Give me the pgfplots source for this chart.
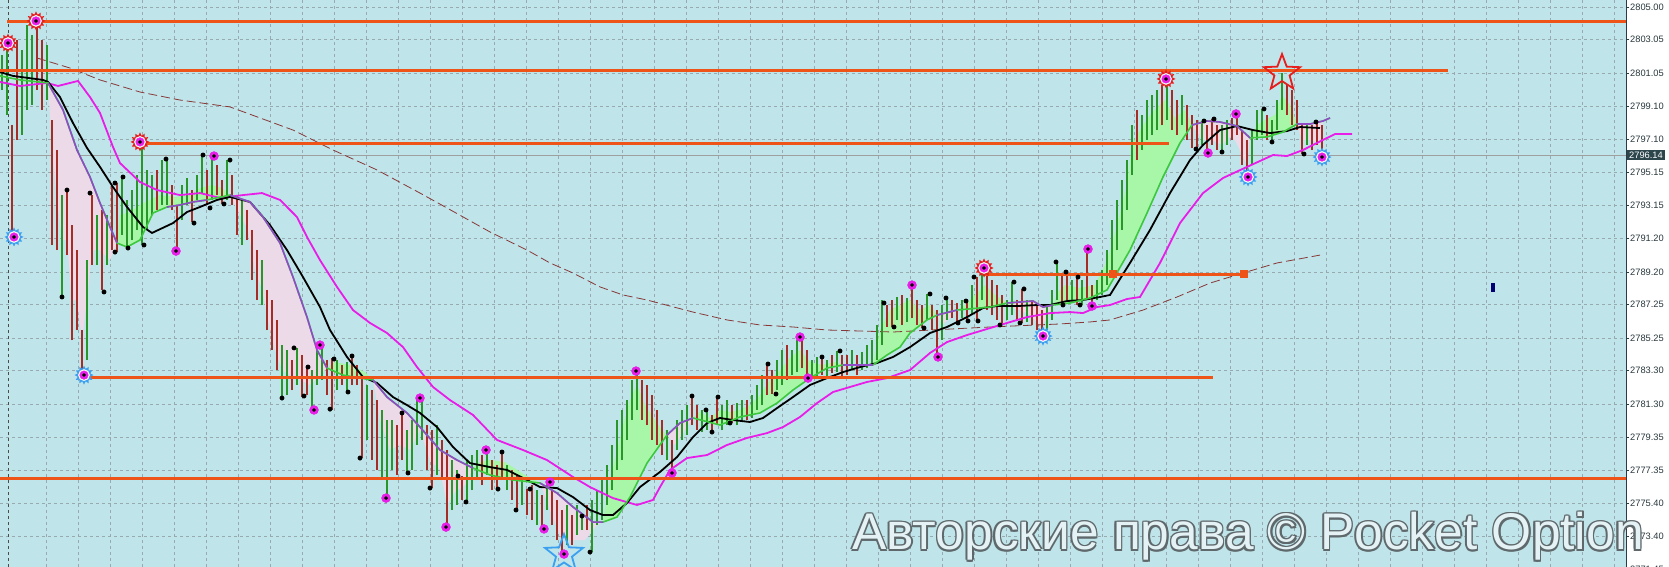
\documentclass[border=0pt]{standalone}
\usepackage{fontspec}
\setmainfont{Liberation Sans}
\usepackage{pgfplots}
\pgfplotsset{compat=1.18}
\usepackage{pgfplotstable}
\definecolor{bgc}{RGB}{191,228,233}
\definecolor{gridc}{RGB}{150,170,175}
\definecolor{orng}{RGB}{238,84,24}
\definecolor{upc}{RGB}{40,150,40}
\definecolor{dnc}{RGB}{165,45,38}
\definecolor{fgreen}{RGB}{60,200,60}
\definecolor{fpurple}{RGB}{145,75,200}
\definecolor{mag}{RGB}{232,30,232}
\definecolor{dashc}{RGB}{135,55,55}
\definecolor{fillg}{RGB}{168,246,168}
\definecolor{fillp}{RGB}{236,218,232}
\definecolor{axc}{RGB}{40,60,68}
\definecolor{lblc}{RGB}{40,55,60}
\definecolor{pricebox}{RGB}{45,70,76}
\definecolor{sunred}{RGB}{230,30,30}
\definecolor{sunblue}{RGB}{60,160,240}
\definecolor{wmout}{RGB}{95,105,108}
\definecolor{wmfill}{RGB}{228,242,246}

\pgfdeclareplotmark{sun}{%
\pgfpathmoveto{\pgfpointpolar{0}{\pgfplotmarksize}}%
\pgfpathlineto{\pgfpointpolar{15}{0.68\pgfplotmarksize}}%
\pgfpathlineto{\pgfpointpolar{30}{\pgfplotmarksize}}%
\pgfpathlineto{\pgfpointpolar{45}{0.68\pgfplotmarksize}}%
\pgfpathlineto{\pgfpointpolar{60}{\pgfplotmarksize}}%
\pgfpathlineto{\pgfpointpolar{75}{0.68\pgfplotmarksize}}%
\pgfpathlineto{\pgfpointpolar{90}{\pgfplotmarksize}}%
\pgfpathlineto{\pgfpointpolar{105}{0.68\pgfplotmarksize}}%
\pgfpathlineto{\pgfpointpolar{120}{\pgfplotmarksize}}%
\pgfpathlineto{\pgfpointpolar{135}{0.68\pgfplotmarksize}}%
\pgfpathlineto{\pgfpointpolar{150}{\pgfplotmarksize}}%
\pgfpathlineto{\pgfpointpolar{165}{0.68\pgfplotmarksize}}%
\pgfpathlineto{\pgfpointpolar{180}{\pgfplotmarksize}}%
\pgfpathlineto{\pgfpointpolar{195}{0.68\pgfplotmarksize}}%
\pgfpathlineto{\pgfpointpolar{210}{\pgfplotmarksize}}%
\pgfpathlineto{\pgfpointpolar{225}{0.68\pgfplotmarksize}}%
\pgfpathlineto{\pgfpointpolar{240}{\pgfplotmarksize}}%
\pgfpathlineto{\pgfpointpolar{255}{0.68\pgfplotmarksize}}%
\pgfpathlineto{\pgfpointpolar{270}{\pgfplotmarksize}}%
\pgfpathlineto{\pgfpointpolar{285}{0.68\pgfplotmarksize}}%
\pgfpathlineto{\pgfpointpolar{300}{\pgfplotmarksize}}%
\pgfpathlineto{\pgfpointpolar{315}{0.68\pgfplotmarksize}}%
\pgfpathlineto{\pgfpointpolar{330}{\pgfplotmarksize}}%
\pgfpathlineto{\pgfpointpolar{345}{0.68\pgfplotmarksize}}%
\pgfpathclose\pgfusepathqfill}

\pgfdeclareplotmark{pstar}{%
\pgfpathmoveto{\pgfpointpolar{90}{\pgfplotmarksize}}%
\pgfpathlineto{\pgfpointpolar{126}{0.42\pgfplotmarksize}}%
\pgfpathlineto{\pgfpointpolar{162}{\pgfplotmarksize}}%
\pgfpathlineto{\pgfpointpolar{198}{0.42\pgfplotmarksize}}%
\pgfpathlineto{\pgfpointpolar{234}{\pgfplotmarksize}}%
\pgfpathlineto{\pgfpointpolar{270}{0.42\pgfplotmarksize}}%
\pgfpathlineto{\pgfpointpolar{306}{\pgfplotmarksize}}%
\pgfpathlineto{\pgfpointpolar{342}{0.42\pgfplotmarksize}}%
\pgfpathlineto{\pgfpointpolar{18}{\pgfplotmarksize}}%
\pgfpathlineto{\pgfpointpolar{54}{0.42\pgfplotmarksize}}%
\pgfpathclose\pgfusepathqstroke}

\pgfplotstableread{
x lo hi c
2 2800.05 2802.14 1
7 2798.56 2802.73 1
12 2791.40 2797.96 0
17 2797.07 2803.03 0
22 2797.37 2802.44 1
27 2798.86 2803.93 1
32 2799.15 2803.33 1
37 2800.05 2804.23 0
42 2798.86 2803.03 0
47 2799.45 2802.73 1
52 2790.80 2798.26 0
57 2790.50 2796.47 0
62 2787.82 2793.78 1
67 2790.20 2794.08 0
72 2785.13 2791.99 0
77 2785.73 2790.50 0
82 2783.04 2785.73 0
87 2783.94 2789.90 1
92 2789.61 2793.78 0
97 2789.61 2792.59 1
102 2788.12 2792.89 0
107 2789.61 2792.59 1
112 2790.50 2794.38 0
117 2790.38 2794.50 0
122 2791.40 2794.98 1
127 2790.62 2793.49 1
132 2791.10 2794.08 1
137 2791.70 2794.98 1
142 2790.80 2796.89 1
147 2791.70 2795.28 1
152 2792.59 2794.98 1
157 2792.89 2795.28 0
162 2793.19 2795.87 1
167 2793.19 2795.87 1
172 2792.89 2794.38 0
177 2790.50 2793.19 0
182 2792.29 2794.38 1
187 2793.19 2794.80 1
192 2792.17 2794.08 0
197 2793.49 2794.98 1
202 2793.90 2796.17 1
207 2793.19 2795.28 0
212 2793.49 2796.11 1
217 2793.78 2795.57 0
222 2793.25 2794.68 0
227 2793.49 2795.87 1
232 2793.19 2794.98 0
237 2791.40 2793.78 0
242 2790.80 2793.49 1
247 2791.10 2792.89 0
252 2788.71 2791.70 0
257 2787.52 2790.50 0
262 2787.22 2789.90 1
267 2785.73 2788.12 0
272 2784.54 2787.52 0
277 2783.34 2786.33 0
282 2781.67 2784.83 1
287 2781.85 2784.54 1
292 2782.15 2783.94 0
297 2782.45 2784.66 1
302 2781.73 2784.24 0
307 2781.85 2783.64 0
312 2780.96 2783.34 1
317 2782.45 2784.54 1
322 2782.75 2784.83 1
327 2781.85 2783.94 0
332 2780.96 2784.06 0
337 2782.15 2783.94 1
342 2782.45 2783.64 0
347 2782.03 2783.82 1
352 2782.45 2784.24 0
357 2782.45 2783.64 0
362 2778.09 2782.86 0
367 2779.17 2782.45 1
372 2777.97 2782.15 0
377 2777.38 2781.55 0
382 2776.78 2780.96 1
387 2775.70 2780.36 1
392 2777.38 2780.36 1
397 2777.08 2780.06 0
402 2777.97 2780.78 0
407 2777.20 2779.76 1
412 2777.38 2780.36 1
417 2778.87 2781.55 1
422 2779.17 2781.67 1
427 2777.38 2780.06 0
432 2776.30 2779.76 0
437 2777.08 2780.06 1
442 2776.78 2779.17 0
447 2773.97 2778.57 0
452 2774.99 2777.97 1
457 2775.29 2777.38 1
462 2775.59 2777.02 0
467 2775.47 2777.97 1
472 2776.18 2778.27 1
477 2776.78 2778.57 1
482 2776.48 2778.27 0
487 2777.08 2778.57 1
492 2776.18 2777.97 0
497 2776.24 2777.67 0
502 2776.78 2778.45 0
507 2776.18 2777.67 1
512 2775.59 2777.38 0
517 2774.99 2777.08 0
522 2775.29 2776.78 1
527 2774.69 2776.24 0
532 2774.39 2776.48 0
537 2774.09 2776.18 1
542 2773.86 2775.88 0
547 2774.99 2776.66 1
552 2774.09 2776.18 0
557 2773.20 2775.59 0
562 2772.36 2774.99 0
567 2772.90 2775.29 1
572 2772.90 2774.69 0
577 2773.50 2775.29 1
582 2773.80 2774.63 1
587 2773.80 2775.29 0
592 2772.48 2775.59 1
597 2774.09 2776.18 1
602 2774.39 2776.78 1
607 2775.29 2777.67 1
612 2776.18 2778.87 1
617 2777.38 2780.36 1
622 2777.97 2780.96 1
627 2779.17 2781.55 1
632 2780.36 2782.75 1
637 2780.96 2783.28 1
642 2780.36 2782.75 0
647 2780.06 2782.45 0
652 2779.17 2781.85 0
657 2778.87 2780.96 0
662 2778.27 2780.36 0
667 2777.97 2779.76 1
672 2777.20 2779.17 0
677 2778.57 2780.36 1
682 2779.17 2780.96 1
687 2779.46 2781.25 1
692 2780.06 2781.79 0
697 2779.76 2781.25 0
702 2779.64 2780.96 1
707 2779.76 2780.96 1
712 2779.64 2780.66 0
717 2780.06 2781.73 0
722 2779.76 2781.25 1
727 2780.06 2781.55 1
732 2780.18 2781.25 0
737 2780.06 2781.37 1
742 2780.36 2781.55 1
747 2780.36 2781.55 0
752 2780.48 2781.85 1
757 2780.96 2782.45 1
762 2781.25 2783.04 1
767 2781.85 2783.70 0
772 2781.91 2783.34 0
777 2782.15 2783.94 1
782 2782.45 2784.54 1
787 2782.75 2784.83 0
792 2783.04 2784.54 1
797 2783.22 2785.13 1
802 2783.46 2785.31 0
807 2782.86 2784.54 0
812 2782.86 2783.94 1
817 2782.86 2784.12 1
822 2783.04 2784.12 0
827 2782.86 2783.94 1
832 2783.16 2784.24 0
837 2783.22 2784.48 1
842 2782.92 2784.24 0
847 2783.04 2784.24 0
852 2783.34 2784.54 1
857 2783.04 2784.24 0
862 2783.34 2784.42 1
867 2783.46 2784.83 1
872 2783.64 2785.13 1
877 2783.94 2786.03 1
882 2784.83 2787.52 1
887 2785.91 2787.22 0
892 2785.91 2787.52 0
897 2786.33 2787.70 1
902 2786.03 2787.82 0
907 2786.21 2787.64 1
912 2786.44 2788.41 0
917 2786.03 2787.52 0
922 2785.85 2787.22 0
927 2786.33 2787.88 1
932 2785.73 2787.22 0
937 2784.12 2786.92 0
942 2785.13 2787.22 1
947 2786.33 2787.64 1
952 2786.44 2787.52 0
957 2786.15 2787.34 0
962 2786.44 2787.52 1
967 2786.27 2787.46 0
972 2786.62 2788.41 1
977 2786.27 2788.89 0
982 2787.52 2789.43 1
987 2786.92 2789.01 0
992 2786.62 2788.71 0
997 2786.33 2788.41 0
1002 2786.03 2787.82 0
1007 2786.33 2787.52 1
1012 2786.62 2788.59 1
1017 2786.33 2787.52 0
1022 2786.15 2788.18 0
1027 2786.21 2787.52 1
1032 2786.03 2787.52 0
1037 2785.73 2787.22 0
1042 2785.37 2786.92 0
1047 2785.73 2787.22 1
1052 2786.33 2788.12 1
1057 2787.52 2789.79 1
1062 2787.22 2789.01 0
1067 2787.52 2789.19 0
1072 2787.52 2788.71 1
1077 2787.22 2788.89 0
1082 2787.22 2788.71 1
1087 2787.52 2790.56 0
1092 2787.16 2788.41 0
1097 2787.52 2788.71 1
1102 2787.82 2789.31 1
1107 2788.41 2790.50 1
1112 2789.01 2792.29 1
1117 2790.50 2793.49 1
1122 2791.70 2794.68 1
1127 2792.89 2795.87 1
1132 2794.98 2797.96 1
1137 2795.87 2798.86 0
1142 2796.47 2798.56 1
1147 2797.07 2799.45 1
1152 2797.37 2799.75 1
1157 2797.66 2800.05 1
1162 2797.96 2800.35 0
1167 2798.26 2800.71 1
1172 2797.66 2800.05 0
1177 2797.37 2799.45 0
1182 2797.96 2799.75 1
1187 2797.07 2799.15 0
1192 2796.59 2798.56 0
1197 2796.53 2798.26 0
1202 2796.77 2798.20 1
1207 2796.29 2797.96 0
1212 2796.77 2798.32 0
1217 2796.47 2797.96 0
1222 2796.35 2797.96 1
1227 2796.77 2798.26 1
1232 2797.07 2798.38 0
1237 2797.37 2798.62 0
1242 2795.57 2797.66 0
1247 2794.86 2797.07 0
1252 2795.57 2797.66 1
1257 2797.07 2798.86 1
1262 2797.37 2798.92 1
1267 2797.07 2798.56 0
1272 2796.95 2798.26 1
1277 2797.66 2799.45 1
1282 2798.86 2801.06 1
1287 2798.56 2800.35 0
1292 2797.96 2800.05 0
1297 2797.66 2799.45 0
1302 2796.23 2798.08 0
1307 2796.77 2797.96 1
1312 2796.47 2797.96 0
1317 2796.77 2798.14 0
1322 2796.05 2797.96 0
}\bars

\newcommand\wm{Авторские права © Pocket Option}
\newcommand\wmfont{\fontsize{51.5}{60}\selectfont}

\begin{document}
\begin{tikzpicture}
\useasboundingbox (0,0) rectangle (1669pt,567pt);
\begin{axis}[
  at={(0,0)}, anchor=south west, scale only axis,
  width=1626pt, height=567pt,
  xmin=0, xmax=1626, ymin=2771.59, ymax=2805.42,
  axis background/.style={fill=bgc},
  axis x line*=bottom, axis y line*=right,
  x axis line style={draw=none},
  y axis line style={axc, line width=0.9pt, -},
  xtick={46.7,78.7,...,1614.7}, xticklabels={}, xtick style={draw=none},
  ytick={2805.00,2803.05,2801.05,2799.10,2797.10,2795.15,2793.15,2791.20,2789.20,2787.25,2785.25,2783.30,2781.30,2779.35,2777.35,2775.40,2773.40},
  yticklabels={2805.00,2803.05,2801.05,2799.10,2797.10,2795.15,2793.15,2791.20,2789.20,2787.25,2785.25,2783.30,2781.30,2779.35,2777.35,2775.40,2773.40},
  yticklabel style={font=\fontsize{9.3}{11}\selectfont, text=lblc, anchor=west, inner sep=1pt},
  ytick align=outside, major tick length=3pt, ytick style={axc, line width=0.6pt},
  xmajorgrids, ymajorgrids,
  grid style={gridc, dash pattern=on 3pt off 3pt, line width=0.5pt},
  clip mode=individual,
]
% current price line
\addplot[gray!75, line width=0.7pt] coordinates {(0,2796.14) (1626,2796.14)};
% period separator
\addplot[black!70, dash pattern=on 3pt off 3pt, line width=0.7pt] coordinates {(8,2771.59) (8,2805.42)};

% fills
\addplot[fill=fillp, draw=none] coordinates {(48,2800.47)(63,2798.86)(77,2796.47)(90,2794.86)(100,2793.31)(110,2791.88)(117,2790.92)(110,2789.90)(100,2790.50)(92,2790.50)(87,2787.52)(82,2785.13)(77,2787.52)(72,2787.52)(67,2791.10)(62,2791.10)(57,2793.49)(52,2796.47)} -- cycle;
\addplot[fill=fillg, draw=none] coordinates {(117,2790.92)(127,2790.68)(140,2791.10)(153,2792.71)(167,2793.07)(180,2793.19)(193,2793.37)(207,2793.49)(230,2793.78)(222,2794.20)(212,2794.38)(200,2794.20)(190,2793.78)(175,2793.67)(160,2793.78)(150,2793.49)(140,2793.19)(130,2792.77)(120,2792.59)} -- cycle;
\addplot[fill=fillp, draw=none] coordinates {(230,2793.78)(250,2793.37)(263,2792.47)(280,2790.92)(293,2788.89)(307,2786.50)(317,2784.54)(327,2783.46)(320,2783.04)(310,2782.45)(300,2782.75)(290,2783.04)(282,2783.34)(275,2784.54)(268,2786.33)(262,2788.12)(255,2789.31)(248,2791.70)(240,2792.59)} -- cycle;
\addplot[fill=fillg, draw=none] coordinates {(327,2783.46)(343,2783.04)(360,2782.86)(373,2782.75)(365,2783.22)(350,2783.64)(335,2783.82)} -- cycle;
\addplot[fill=fillp, draw=none] coordinates {(373,2782.75)(387,2781.73)(407,2780.78)(420,2779.94)(440,2778.57)(457,2777.97)(473,2777.49)(465,2776.48)(455,2776.06)(447,2775.29)(440,2777.38)(430,2777.97)(420,2779.76)(410,2778.57)(400,2778.87)(390,2778.57)(380,2780.36)} -- cycle;
\addplot[fill=fillg, draw=none] coordinates {(473,2777.49)(490,2777.08)(513,2776.78)(540,2776.60)(525,2777.08)(505,2777.85)(490,2777.97)(480,2777.85)} -- cycle;
\addplot[fill=fillp, draw=none] coordinates {(540,2776.60)(557,2776.00)(573,2775.17)(593,2774.27)(603,2774.27)(597,2774.09)(585,2773.20)(572,2773.20)(562,2773.20)(552,2774.69)} -- cycle;
\addplot[fill=fillg, draw=none] coordinates {(603,2774.27)(617,2774.57)(630,2775.76)(647,2777.79)(667,2779.46)(662,2779.76)(655,2780.36)(645,2781.25)(637,2782.45)(630,2781.55)(622,2779.76)(615,2777.97)(608,2776.18)} -- cycle;
\addplot[fill=fillp, draw=none] coordinates {(667,2779.46)(680,2780.18)(693,2780.48)(685,2779.76)(675,2778.87)} -- cycle;
\addplot[fill=fillg, draw=none] coordinates {(693,2780.48)(720,2780.06)(740,2780.54)(760,2780.78)(777,2781.37)(793,2782.15)(810,2782.86)(827,2783.46)(843,2783.64)(835,2783.82)(822,2783.64)(810,2783.82)(800,2784.54)(790,2784.06)(780,2783.34)(770,2782.75)(760,2781.85)(750,2781.25)(740,2780.96)(730,2780.84)(720,2780.96)(710,2780.48)(700,2780.84)} -- cycle;
\addplot[fill=fillg, draw=none] coordinates {(873,2783.64)(887,2784.24)(900,2784.71)(910,2785.55)(927,2786.33)(937,2786.62)(930,2787.22)(920,2786.92)(910,2787.52)(900,2787.22)(890,2786.92)(880,2785.73)} -- cycle;
\addplot[fill=fillp, draw=none] coordinates {(937,2786.62)(957,2786.92)(950,2786.44)(942,2786.03)} -- cycle;
\addplot[fill=fillg, draw=none] coordinates {(957,2786.92)(990,2787.10)(1007,2787.34)(995,2787.82)(985,2788.41)(975,2787.82)(965,2787.22)} -- cycle;
\addplot[fill=fillp, draw=none] coordinates {(1007,2787.34)(1033,2787.46)(1043,2787.10)(1053,2787.22)(1047,2786.33)(1040,2786.03)(1030,2786.62)(1020,2786.92)(1012,2787.04)} -- cycle;
\addplot[fill=fillg, draw=none] coordinates {(1053,2787.22)(1070,2787.34)(1090,2787.64)(1107,2788.12)(1130,2790.50)(1147,2792.71)(1163,2794.86)(1180,2796.89)(1192,2797.96)(1185,2798.86)(1175,2798.38)(1165,2799.45)(1157,2798.98)(1150,2798.56)(1140,2797.66)(1132,2796.77)(1127,2794.38)(1122,2793.19)(1117,2791.99)(1112,2790.80)(1105,2789.61)(1095,2788.41)(1080,2788.24)(1065,2788.41)(1058,2788.00)} -- cycle;
\addplot[fill=fillp, draw=none] coordinates {(1192,2797.96)(1207,2798.20)(1220,2798.14)(1237,2797.90)(1250,2797.19)(1247,2795.57)(1240,2796.47)(1232,2797.37)(1222,2796.77)(1212,2797.07)(1202,2797.07)} -- cycle;
\addplot[fill=fillg, draw=none] coordinates {(1250,2797.19)(1267,2797.25)(1283,2797.54)(1297,2798.02)(1290,2799.15)(1282,2799.75)(1275,2798.56)(1265,2798.26)(1257,2797.96)} -- cycle;
\addplot[fill=fillp, draw=none] coordinates {(1297,2798.02)(1310,2798.02)(1323,2798.20)(1320,2796.77)(1312,2797.07)(1302,2797.07)} -- cycle;

% long dashed MA
\addplot[dashc, line width=0.8pt, dash pattern=on 9pt off 4pt] coordinates {(37,2801.96)(70,2801.36)(100,2800.65)(140,2799.93)(180,2799.45)(230,2799.04)(293,2797.66)(333,2796.47)(377,2795.28)(420,2793.90)(447,2793.01)(490,2791.58)(527,2790.50)(550,2789.73)(573,2789.13)(600,2788.30)(623,2787.82)(647,2787.52)(693,2786.80)(727,2786.33)(760,2786.03)(793,2785.91)(827,2785.73)(860,2785.67)(893,2785.61)(990,2785.91)(1060,2786.09)(1090,2786.21)(1110,2786.33)(1143,2786.92)(1177,2787.70)(1210,2788.53)(1243,2789.13)(1277,2789.73)(1320,2790.20)};

% bars
\addplot[upc, line width=1.1pt, no marks, quiver={u=0, v=\thisrow{hi}-\thisrow{lo}}, restrict expr to domain={\thisrow{c}}{0.5:1.5}] table[x=x, y=lo] {\bars};
\addplot[dnc, line width=1.1pt, no marks, quiver={u=0, v=\thisrow{hi}-\thisrow{lo}}, restrict expr to domain={\thisrow{c}}{-0.5:0.5}] table[x=x, y=lo] {\bars};

% magenta slow MA
\addplot[mag, line width=1.8pt] coordinates {(0,2800.53)(20,2800.29)(47,2800.47)(58,2800.29)(78,2800.59)(90,2799.63)(100,2798.68)(113,2796.65)(120,2795.69)(140,2794.56)(157,2794.08)(180,2793.78)(200,2793.90)(220,2793.61)(243,2793.78)(262,2793.90)(280,2793.49)(297,2792.47)(307,2791.28)(320,2789.90)(337,2788.30)(353,2786.92)(370,2786.15)(387,2785.55)(403,2784.71)(417,2783.52)(433,2782.33)(450,2781.55)(473,2780.66)(497,2779.17)(523,2778.57)(547,2777.97)(573,2776.96)(590,2776.36)(613,2775.70)(637,2775.29)(653,2775.59)(660,2776.36)(670,2777.38)(687,2778.09)(707,2778.27)(727,2778.87)(747,2779.29)(767,2779.58)(783,2779.94)(800,2780.54)(817,2781.37)(833,2782.03)(850,2782.33)(867,2782.63)(887,2782.86)(910,2783.34)(930,2784.36)(947,2785.01)(967,2785.43)(987,2785.79)(1007,2786.15)(1027,2786.50)(1050,2786.74)(1070,2786.80)(1083,2786.74)(1097,2787.10)(1110,2787.22)(1127,2787.58)(1140,2787.70)(1160,2789.73)(1180,2792.11)(1203,2793.90)(1223,2794.80)(1247,2795.46)(1273,2796.17)(1287,2796.11)(1303,2796.47)(1323,2797.07)(1335,2797.42)(1352,2797.42)};

% black MA
\addplot[black, line width=1.8pt] coordinates {(0,2801.12)(13,2800.89)(43,2800.65)(48,2800.53)(60,2799.63)(73,2798.08)(87,2796.59)(100,2795.46)(113,2794.26)(127,2793.07)(143,2791.88)(152,2791.52)(173,2792.11)(187,2792.77)(200,2793.07)(217,2793.49)(230,2793.67)(250,2793.37)(270,2791.99)(287,2790.50)(303,2788.89)(320,2787.10)(330,2785.73)(347,2784.12)(363,2782.92)(377,2782.57)(393,2781.73)(407,2781.25)(420,2780.78)(437,2779.94)(453,2778.75)(470,2777.79)(490,2777.55)(507,2777.38)(527,2776.78)(540,2776.36)(557,2776.30)(573,2775.76)(590,2774.99)(603,2774.69)(613,2774.69)(627,2775.41)(640,2776.36)(660,2777.26)(677,2778.15)(693,2779.34)(707,2780.18)(720,2780.48)(733,2780.36)(750,2780.24)(763,2780.48)(777,2781.07)(793,2781.73)(810,2782.45)(827,2782.86)(843,2783.22)(860,2783.52)(877,2783.76)(893,2784.12)(910,2784.71)(930,2785.55)(947,2785.91)(967,2786.50)(983,2787.04)(997,2787.16)(1017,2787.16)(1037,2787.22)(1050,2787.22)(1067,2787.46)(1083,2787.52)(1100,2787.70)(1110,2787.82)(1130,2789.73)(1150,2791.70)(1170,2793.90)(1190,2795.87)(1203,2796.77)(1220,2797.66)(1237,2797.90)(1253,2797.66)(1270,2797.48)(1287,2797.60)(1300,2797.84)(1320,2797.78)};

% fast line (green) with purple segments
\addplot[fgreen, line width=1.6pt] coordinates {(0,2800.89)(20,2800.65)(48,2800.47)(63,2798.86)(77,2796.47)(90,2794.86)(100,2793.31)(110,2791.88)(117,2790.92)(127,2790.68)(140,2791.10)(153,2792.71)(167,2793.07)(180,2793.19)(193,2793.37)(207,2793.49)(230,2793.78)(250,2793.37)(263,2792.47)(280,2790.92)(293,2788.89)(307,2786.50)(317,2784.54)(327,2783.46)(343,2783.04)(360,2782.86)(373,2782.75)(387,2781.73)(407,2780.78)(420,2779.94)(440,2778.57)(457,2777.97)(473,2777.49)(490,2777.08)(513,2776.78)(540,2776.60)(557,2776.00)(573,2775.17)(593,2774.27)(603,2774.27)(617,2774.57)(630,2775.76)(647,2777.79)(667,2779.46)(680,2780.18)(693,2780.48)(720,2780.06)(740,2780.54)(760,2780.78)(777,2781.37)(793,2782.15)(810,2782.86)(827,2783.46)(843,2783.64)(873,2783.64)(887,2784.24)(900,2784.71)(910,2785.55)(927,2786.33)(937,2786.62)(957,2786.92)(990,2787.10)(1007,2787.34)(1033,2787.46)(1043,2787.10)(1053,2787.22)(1070,2787.34)(1090,2787.64)(1107,2788.12)(1130,2790.50)(1147,2792.71)(1163,2794.86)(1180,2796.89)(1192,2797.96)(1207,2798.20)(1220,2798.14)(1237,2797.90)(1250,2797.19)(1267,2797.25)(1283,2797.54)(1297,2798.02)(1310,2798.02)(1323,2798.20)(1330,2798.38)};
\addplot[fpurple, line width=1.6pt] coordinates {(48,2800.47)(63,2798.86)(77,2796.47)(90,2794.86)(100,2793.31)(110,2791.88)(117,2790.92)};
\addplot[fpurple, line width=1.6pt] coordinates {(167,2793.07)(180,2793.19)(193,2793.37)(207,2793.49)};
\addplot[fpurple, line width=1.6pt] coordinates {(230,2793.78)(250,2793.37)(263,2792.47)(280,2790.92)(293,2788.89)(307,2786.50)(317,2784.54)(327,2783.46)};
\addplot[fpurple, line width=1.6pt] coordinates {(373,2782.75)(387,2781.73)(407,2780.78)(420,2779.94)(440,2778.57)(457,2777.97)(473,2777.49)};
\addplot[fpurple, line width=1.6pt] coordinates {(540,2776.60)(557,2776.00)(573,2775.17)(593,2774.27)(603,2774.27)};
\addplot[fpurple, line width=1.6pt] coordinates {(667,2779.46)(680,2780.18)(693,2780.48)};
\addplot[fpurple, line width=1.6pt] coordinates {(843,2783.64)(873,2783.64)};
\addplot[fpurple, line width=1.6pt] coordinates {(937,2786.62)(957,2786.92)};
\addplot[fpurple, line width=1.6pt] coordinates {(1007,2787.34)(1033,2787.46)(1043,2787.10)(1053,2787.22)};
\addplot[fpurple, line width=1.6pt] coordinates {(1192,2797.96)(1207,2798.20)(1220,2798.14)(1237,2797.90)(1250,2797.19)};
\addplot[fpurple, line width=1.6pt] coordinates {(1297,2798.02)(1310,2798.02)(1323,2798.20)(1330,2798.38)};

% orange levels
\addplot[orng, line width=3pt] coordinates {(7,2804.14)(1626,2804.14)};
\addplot[orng, line width=3pt] coordinates {(0,2801.24)(1448,2801.24)};
\addplot[orng, line width=3pt] coordinates {(140,2796.86)(1169,2796.86)};
\addplot[orng, line width=3pt] coordinates {(84,2782.92)(1213,2782.92)};
\addplot[orng, line width=3pt] coordinates {(0,2776.90)(1626,2776.90)};
\addplot[orng, line width=3pt] coordinates {(983,2789.07)(1244,2789.07)};
\addplot[only marks, mark=square*, mark size=3.5pt, orng] coordinates {(1113,2789.07)(1244,2789.07)};

% black extreme dots
\addplot[only marks, mark=*, mark size=2.2pt, black] coordinates {(62,2787.70)(67,2794.08)(90,2793.90)(104,2788.00)(115,2794.50)(115,2790.38)(123,2794.86)(128,2790.62)(144,2790.80)(166,2795.93)(194,2792.11)(203,2796.17)(210,2793.01)(224,2793.25)(230,2795.87)(282,2781.67)(294,2784.66)(304,2781.79)(308,2783.52)(330,2781.01)(334,2784.00)(348,2782.03)(352,2784.18)(360,2778.09)(402,2780.78)(408,2777.20)(430,2776.30)(458,2777.02)(466,2775.47)(498,2776.24)(502,2778.45)(516,2774.99)(530,2776.24)(582,2774.63)(590,2772.48)(692,2781.79)(706,2780.96)(712,2779.64)(718,2781.73)(730,2780.18)(768,2783.70)(776,2781.91)(822,2784.12)(840,2784.48)(884,2787.34)(894,2785.91)(924,2785.85)(930,2787.88)(946,2787.64)(958,2786.15)(966,2787.46)(968,2786.27)(974,2788.89)(978,2786.27)(1000,2786.03)(1014,2788.59)(1020,2786.15)(1024,2788.18)(1056,2789.79)(1063,2787.22)(1066,2789.19)(1078,2788.89)(1080,2787.22)(1196,2796.53)(1204,2798.20)(1214,2798.32)(1222,2796.35)(1264,2798.92)(1272,2796.95)(1304,2796.23)(1316,2798.14)};

% magenta signal dots
\addplot[only marks, mark=*, mark size=4.5pt, mag, mark options={draw=none}] coordinates {(176,2790.44)(214,2796.11)(314,2780.96)(320,2784.83)(386,2775.70)(420,2781.67)(446,2773.97)(486,2778.57)(544,2773.86)(550,2776.66)(564,2772.36)(636,2783.28)(672,2777.20)(800,2785.31)(808,2782.86)(912,2788.41)(938,2784.12)(1088,2790.56)(1092,2787.16)(1208,2796.29)(1236,2798.62)};
\addplot[only marks, mark=*, mark size=1.6pt, black] coordinates {(176,2790.44)(214,2796.11)(314,2780.96)(320,2784.83)(386,2775.70)(420,2781.67)(446,2773.97)(486,2778.57)(544,2773.86)(550,2776.66)(564,2772.36)(636,2783.28)(672,2777.20)(800,2785.31)(808,2782.86)(912,2788.41)(938,2784.12)(1088,2790.56)(1092,2787.16)(1208,2796.29)(1236,2798.62)};

% sun markers
\addplot[only marks, mark=sun, mark size=9.5pt, sunred] coordinates {(8,2802.85)(36,2804.17)(140,2796.95)(984,2789.43)(1166,2800.71)};
\addplot[only marks, mark=sun, mark size=9.5pt, sunblue] coordinates {(14,2791.28)(84,2783.04)(1043,2785.37)(1248,2794.86)(1322,2796.05)};
\addplot[only marks, mark=*, mark size=5.6pt, white, mark options={draw=none}] coordinates {(8,2802.85)(36,2804.17)(140,2796.95)(984,2789.43)(1166,2800.71)(14,2791.28)(84,2783.04)(1043,2785.37)(1248,2794.86)(1322,2796.05)};
\addplot[only marks, mark=*, mark size=4.3pt, mag, mark options={draw=none}] coordinates {(8,2802.85)(36,2804.17)(140,2796.95)(984,2789.43)(1166,2800.71)(14,2791.28)(84,2783.04)(1043,2785.37)(1248,2794.86)(1322,2796.05)};
\addplot[only marks, mark=*, mark size=1.6pt, black] coordinates {(8,2802.85)(36,2804.17)(140,2796.95)(984,2789.43)(1166,2800.71)(14,2791.28)(84,2783.04)(1043,2785.37)(1248,2794.86)(1322,2796.05)};

% stars
\addplot[only marks, mark=pstar, mark size=19pt, sunred, mark options={line width=1.8pt}] coordinates {(1282,2801.06)};
\addplot[only marks, mark=pstar, mark size=20pt, sunblue, mark options={line width=1.8pt}] coordinates {(564,2772.36)};

% small blue mark
\addplot[fill=blue!45!black, draw=none] coordinates {(1491,2788.55)(1495,2788.55)(1495,2788.02)(1491,2788.02)} -- cycle;
\end{axis}

% current price label
\node[fill=pricebox, text=white, font=\fontsize{9.3}{11}\selectfont, anchor=west, inner xsep=2pt, inner ysep=1.2pt, minimum height=10pt] at (1627pt,411.5pt) {2796.14};
\node[text=lblc, font=\fontsize{9.3}{11}\selectfont, anchor=west, inner sep=1pt] at (1629pt,-2pt) {2771.45};

% watermark
\begin{scope}[every node/.style={anchor=base west, inner sep=0pt, font=\wmfont}]
\foreach \dx/\dy in {1.6/0,-1.6/0,0/1.6,0/-1.6,1.15/1.15,-1.15/1.15,1.15/-1.15,-1.15/-1.15}{
  \node[text=wmout] at (852pt+\dx pt,17pt+\dy pt) {\wm};
}
\node[text=wmfill] at (852pt,17pt) {\wm};
\end{scope}
\end{tikzpicture}
\end{document}
